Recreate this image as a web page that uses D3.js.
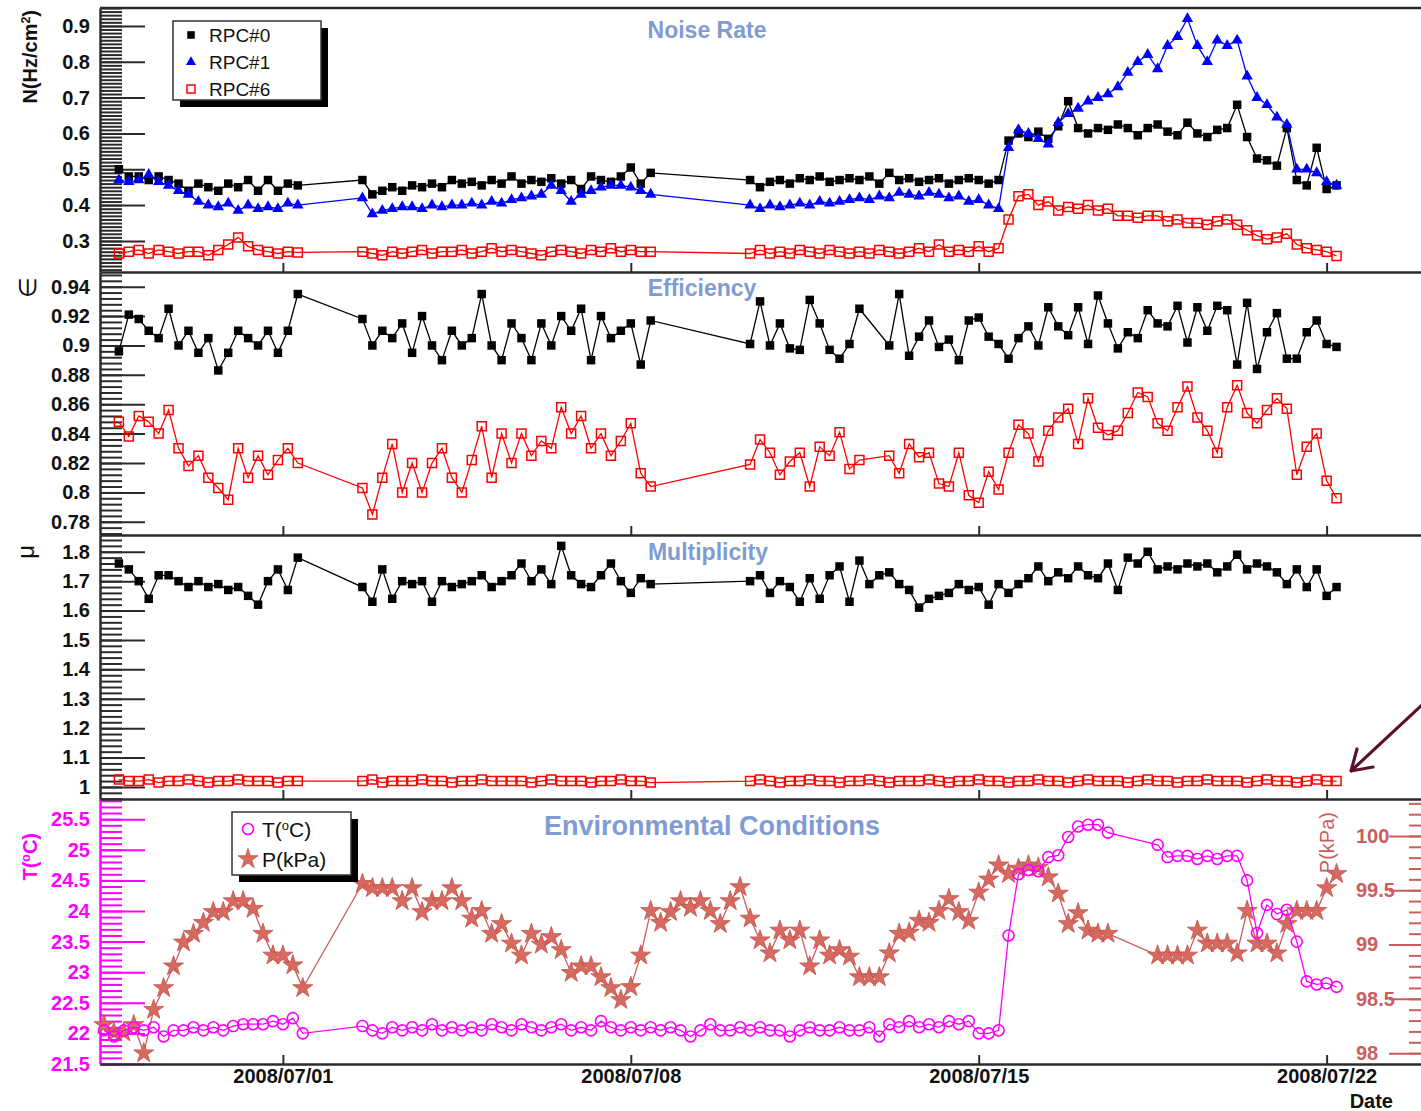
<!DOCTYPE html>
<html><head><meta charset="utf-8">
<script src="https://cdn.jsdelivr.net/npm/d3@7"></script>
<style>
html,body{margin:0;padding:0;background:#fff;}
svg{display:block;font-family:"Liberation Sans",Arial,Helvetica,sans-serif;}
</style></head><body>
<svg id="chart" width="1421" height="1111"></svg>
<script>
// ---- sampling times, in days since 2008/07/01 00:00 ----
const runDays = [
  -3.3,-3.1,-2.9,-2.7,-2.5,-2.3,-2.1,-1.9,-1.7,-1.5,-1.3,-1.1,-0.9,-0.7,-0.5,-0.3,-0.1,0.1,0.3,
  1.6,1.8,2.0,2.2,2.4,2.6,2.8,3.0,3.2,3.4,3.6,3.8,4.0,4.2,4.4,4.6,4.8,5.0,5.2,5.4,5.6,5.8,6.0,6.2,6.4,6.6,6.8,7.0,7.2,7.4,
  9.4,9.6,9.8,10.0,10.2,10.4,10.6,10.8,11.0,11.2,11.4,11.6,11.8,12.0,12.2,12.4,12.6,12.8,13.0,13.2,
  13.4,13.6,13.8,14.0,14.2,14.4,14.6,14.8,15.0,15.2,15.4,15.6,15.8,16.0,16.2,16.4,16.6,16.8,17.0,17.2,
  17.4,17.6,17.8,18.0,18.2,18.4,18.6,18.8,19.0,19.2,19.4,19.6,19.8,20.0,20.2,20.4,20.6,20.8,21.0,21.2
];
const effDays = [
  -3.3,-3.1,-2.9,-2.7,-2.5,-2.3,-2.1,-1.9,-1.7,-1.5,-1.3,-1.1,-0.9,-0.7,-0.5,-0.3,-0.1,0.1,0.3,
  1.6,1.8,2.0,2.2,2.4,2.6,2.8,3.0,3.2,3.4,3.6,3.8,4.0,4.2,4.4,4.6,4.8,5.0,5.2,5.4,5.6,5.8,6.0,6.2,6.4,6.6,6.8,7.0,7.2,7.4,
  9.4,9.6,9.8,10.0,10.2,10.4,10.6,10.8,11.0,11.2,11.4,11.6,12.2,12.4,12.6,12.8,13.0,13.2,
  13.4,13.6,13.8,14.0,14.2,14.4,14.6,14.8,15.0,15.2,15.4,15.6,15.8,16.0,16.2,16.4,16.6,16.8,17.0,17.2,
  17.4,17.6,17.8,18.0,18.2,18.4,18.6,18.8,19.0,19.2,19.4,19.6,19.8,20.0,20.2,20.4,20.6,20.8,21.0,21.2
];
const envDays = [
  -3.6,-3.4,-3.2,-3.0,-2.8,-2.6,-2.4,-2.2,-2.0,-1.8,-1.6,-1.4,-1.2,-1.0,-0.8,-0.6,-0.4,-0.2,0.0,0.2,0.4,
  1.6,1.8,2.0,2.2,2.4,2.6,2.8,3.0,3.2,3.4,3.6,3.8,4.0,4.2,4.4,4.6,4.8,5.0,5.2,5.4,5.6,5.8,6.0,6.2,6.4,6.6,
  6.8,7.0,7.2,7.4,7.6,7.8,8.0,8.2,8.4,8.6,8.8,9.0,9.2,9.4,9.6,9.8,10.0,10.2,10.4,10.6,10.8,11.0,11.2,11.4,
  11.6,11.8,12.0,12.2,12.4,12.6,12.8,13.0,13.2,13.4,13.6,13.8,14.0,14.2,14.4,14.6,14.8,15.0,15.2,15.4,15.6,
  15.8,16.0,16.2,16.4,16.6,
  17.6,17.8,18.0,18.2,18.4,18.6,18.8,19.0,19.2,19.4,19.6,19.8,20.0,20.2,20.4,20.6,20.8,21.0,21.2
];

// ---- noise rate N (Hz/cm^2) ----
const noiseRPC0 = [
  0.50,0.48,0.48,0.47,0.48,0.47,0.46,0.44,0.46,0.45,0.44,0.46,0.45,0.47,0.44,0.47,0.44,0.46,0.455,
  0.47,0.43,0.44,0.45,0.44,0.455,0.45,0.46,0.45,0.47,0.46,0.465,0.455,0.47,0.46,0.48,0.46,0.47,0.465,0.475,
  0.46,0.47,0.445,0.48,0.47,0.465,0.48,0.505,0.46,0.49,
  0.47,0.45,0.465,0.47,0.46,0.475,0.47,0.48,0.465,0.47,0.475,0.47,0.48,0.46,0.49,0.47,0.475,0.465,0.47,0.475,
  0.46,0.47,0.475,0.47,0.46,0.47,0.58,0.60,0.59,0.605,0.585,0.62,0.69,0.615,0.60,0.615,0.61,0.625,0.615,0.595,
  0.615,0.625,0.605,0.595,0.63,0.60,0.59,0.61,0.615,0.68,0.59,0.53,0.525,0.51,0.615,0.47,0.455,0.56,0.445,0.455
];
const noiseRPC1 = [
  0.47,0.465,0.47,0.485,0.465,0.455,0.44,0.43,0.41,0.40,0.395,0.405,0.385,0.40,0.39,0.395,0.39,0.405,0.40,
  0.42,0.375,0.385,0.39,0.395,0.395,0.39,0.40,0.395,0.40,0.40,0.405,0.40,0.41,0.405,0.415,0.42,0.425,0.43,0.455,
  0.44,0.41,0.43,0.44,0.45,0.455,0.455,0.45,0.44,0.43,
  0.40,0.39,0.40,0.395,0.40,0.405,0.40,0.41,0.405,0.41,0.415,0.42,0.415,0.425,0.42,0.435,0.43,0.425,0.435,0.43,
  0.42,0.425,0.41,0.415,0.40,0.39,0.56,0.61,0.60,0.585,0.57,0.63,0.655,0.67,0.69,0.70,0.71,0.73,0.77,0.80,
  0.82,0.78,0.845,0.87,0.92,0.845,0.80,0.86,0.845,0.86,0.76,0.70,0.68,0.645,0.625,0.50,0.50,0.49,0.465,0.455
];
const noiseRPC6 = [
  0.265,0.27,0.275,0.265,0.275,0.27,0.265,0.27,0.27,0.26,0.275,0.29,0.31,0.285,0.275,0.27,0.265,0.27,0.268,
  0.27,0.265,0.26,0.27,0.265,0.27,0.275,0.265,0.27,0.27,0.275,0.265,0.27,0.28,0.27,0.275,0.27,0.265,0.26,0.27,
  0.275,0.27,0.265,0.275,0.27,0.28,0.27,0.275,0.27,0.27,
  0.265,0.275,0.265,0.27,0.265,0.275,0.27,0.265,0.275,0.27,0.265,0.27,0.265,0.275,0.27,0.265,0.27,0.28,0.27,0.29,
  0.27,0.275,0.27,0.285,0.27,0.28,0.36,0.425,0.43,0.40,0.41,0.385,0.395,0.39,0.40,0.385,0.39,0.37,0.37,0.365,
  0.37,0.37,0.355,0.36,0.35,0.35,0.345,0.355,0.36,0.345,0.33,0.315,0.305,0.31,0.32,0.29,0.28,0.275,0.27,0.258
];

// ---- efficiency ----
const effRPC0 = [
  0.896,0.921,0.918,0.91,0.905,0.925,0.9,0.91,0.895,0.905,0.883,0.895,0.91,0.905,0.9,0.91,0.895,0.91,0.935,
  0.918,0.9,0.91,0.905,0.915,0.895,0.92,0.9,0.89,0.91,0.9,0.905,0.935,0.9,0.89,0.915,0.905,0.89,0.915,0.9,
  0.92,0.91,0.925,0.89,0.92,0.905,0.91,0.915,0.887,0.917,
  0.901,0.93,0.9,0.915,0.898,0.897,0.931,0.915,0.897,0.891,0.901,0.925,0.9,0.935,0.893,0.906,0.917,0.899,0.904,0.89,
  0.917,0.919,0.906,0.901,0.891,0.905,0.913,0.9,0.926,0.913,0.907,0.926,0.901,0.934,0.915,0.898,0.909,0.905,0.924,0.915,
  0.913,0.927,0.902,0.926,0.91,0.927,0.924,0.887,0.929,0.884,0.909,0.922,0.891,0.891,0.909,0.917,0.901,0.899
];
const effRPC6 = [
  0.848,0.838,0.852,0.848,0.84,0.856,0.83,0.818,0.825,0.81,0.803,0.795,0.83,0.81,0.825,0.812,0.822,0.83,0.82,
  0.803,0.785,0.81,0.833,0.8,0.82,0.8,0.82,0.83,0.81,0.8,0.822,0.845,0.81,0.84,0.82,0.84,0.825,0.835,0.83,
  0.858,0.84,0.852,0.83,0.84,0.825,0.835,0.847,0.813,0.804,
  0.819,0.836,0.827,0.812,0.821,0.827,0.804,0.831,0.825,0.841,0.816,0.822,0.825,0.813,0.833,0.824,0.827,0.806,0.804,0.827,
  0.798,0.793,0.814,0.802,0.827,0.846,0.84,0.821,0.842,0.851,0.857,0.833,0.864,0.844,0.839,0.842,0.854,0.868,0.865,0.847,
  0.842,0.858,0.872,0.851,0.842,0.827,0.858,0.873,0.854,0.847,0.856,0.864,0.857,0.812,0.831,0.84,0.808,0.796
];

// ---- multiplicity ----
const mulRPC0 = [
  1.76,1.74,1.70,1.64,1.72,1.72,1.70,1.68,1.70,1.68,1.69,1.67,1.68,1.65,1.62,1.70,1.74,1.67,1.78,
  1.68,1.63,1.74,1.64,1.70,1.69,1.70,1.63,1.70,1.68,1.69,1.70,1.72,1.68,1.70,1.72,1.76,1.70,1.74,1.69,
  1.82,1.72,1.69,1.68,1.72,1.76,1.70,1.66,1.71,1.69,
  1.70,1.72,1.66,1.70,1.68,1.63,1.71,1.64,1.72,1.75,1.63,1.77,1.69,1.72,1.73,1.69,1.67,1.61,1.64,1.65,
  1.66,1.69,1.67,1.68,1.62,1.69,1.66,1.69,1.71,1.75,1.70,1.73,1.71,1.75,1.72,1.71,1.76,1.67,1.78,1.76,
  1.80,1.74,1.75,1.74,1.76,1.75,1.76,1.73,1.75,1.79,1.74,1.76,1.75,1.73,1.69,1.74,1.68,1.74,1.65,1.68
];
const mulRPC6 = [
  1.025,1.02,1.02,1.025,1.015,1.02,1.02,1.025,1.02,1.015,1.02,1.02,1.025,1.02,1.02,1.02,1.015,1.02,1.02,
  1.02,1.025,1.015,1.02,1.02,1.02,1.025,1.02,1.02,1.015,1.02,1.02,1.025,1.02,1.02,1.02,1.02,1.015,1.02,1.025,
  1.02,1.02,1.02,1.015,1.02,1.02,1.025,1.02,1.02,1.015,
  1.02,1.025,1.02,1.015,1.02,1.02,1.025,1.02,1.02,1.015,1.02,1.02,1.025,1.02,1.015,1.02,1.02,1.02,1.025,1.02,
  1.015,1.02,1.02,1.025,1.02,1.02,1.015,1.02,1.02,1.025,1.02,1.02,1.015,1.02,1.025,1.02,1.02,1.02,1.015,1.02,
  1.025,1.02,1.02,1.015,1.02,1.02,1.025,1.02,1.02,1.02,1.015,1.02,1.025,1.02,1.02,1.015,1.02,1.025,1.02,1.02
];

// ---- environment: temperature (C) and pressure (kPa) ----
const tempC = [
  22.05,21.95,22.05,22.1,22.05,22.1,21.95,22.05,22.05,22.1,22.05,22.1,22.05,22.12,22.15,22.15,22.15,22.2,22.15,22.25,22.0,
  22.12,22.05,22.0,22.1,22.05,22.1,22.05,22.15,22.05,22.1,22.05,22.1,22.05,22.15,22.1,22.05,22.15,22.1,22.05,22.1,
  22.15,22.05,22.1,22.05,22.2,22.1,22.05,22.1,22.05,22.1,22.05,22.1,22.05,21.95,22.05,22.15,22.05,22.05,22.1,22.05,
  22.1,22.05,22.05,21.95,22.05,22.1,22.05,22.05,22.1,22.05,22.05,22.1,21.95,22.15,22.1,22.2,22.1,22.15,22.1,22.2,
  22.15,22.2,22.0,22.0,22.05,23.6,24.6,24.67,24.65,24.88,24.91,25.21,25.38,25.41,25.41,25.28,
  25.08,24.88,24.9,24.9,24.85,24.9,24.85,24.9,24.9,24.5,23.64,24.1,23.95,24.02,23.5,22.85,22.8,22.82,22.76
];
const pressKPa = [
  98.26,98.19,98.19,98.26,98.0,98.4,98.6,98.8,99.02,99.1,99.2,99.3,99.3,99.4,99.4,99.33,99.1,98.9,98.9,98.81,98.6,
  99.56,99.52,99.52,99.52,99.4,99.52,99.3,99.4,99.4,99.52,99.4,99.24,99.31,99.1,99.19,99.01,98.9,99.1,99.0,99.07,
  98.95,98.74,98.8,98.8,98.7,98.6,98.49,98.61,98.9,99.31,99.2,99.3,99.4,99.34,99.4,99.31,99.19,99.4,99.53,99.24,
  99.04,98.92,99.13,99.04,99.13,98.8,99.04,98.9,98.95,98.89,98.7,98.7,98.7,98.92,99.1,99.11,99.22,99.2,99.31,99.42,
  99.3,99.22,99.48,99.6,99.73,99.65,99.7,99.73,99.71,99.62,99.47,99.19,99.29,99.13,99.1,99.1,
  98.9,98.9,98.9,98.9,99.13,99.01,99.01,99.01,98.92,99.31,99.01,99.01,98.92,99.19,99.31,99.31,99.31,99.52,99.65
];

// ---- axis labels ----
const dateTicks = ["2008/07/01","2008/07/08","2008/07/15","2008/07/22"];
const legendRPC = ["RPC#0","RPC#1","RPC#6"];
const panelTitles = ["Noise Rate","Efficiency","Multiplicity","Environmental Conditions"];

// ---------------------------------------------------------------
const svg = d3.select("#chart");
const LEFT = 100, RIGHT = 1429;
const day0 = Date.UTC(2008, 6, 1);
const toDate = d => new Date(day0 + d * 864e5);
const parseTick = d3.utcParse("%Y/%m/%d");

const x = d3.scaleUtc().domain([toDate(-3.68), toDate(23.06)]).range([LEFT, RIGHT]);

const yNoise = d3.scaleLinear().domain([0.2134, 0.950]).range([272, 8]);
const yEff   = d3.scaleLinear().domain([0.771, 0.950]).range([535, 272]);
const yMul   = d3.scaleLinear().domain([0.959, 1.857]).range([799, 535]);
const yTemp  = d3.scaleLinear().domain([21.5, 25.83]).range([1064, 799]);
const yPres  = d3.scaleLinear().domain([97.9, 100.34]).range([1064, 799]);

const trim = d => String(+d.toFixed(3));
const steps = (a, b, s) => d3.range(Math.round(a / s), Math.round(b / s) + 1).map(k => +(k * s).toFixed(4));

const AX = "#2b2b2b";
const MAG = "#ff00ff";
const PCOL = "#cd5c5c";

function leftAxis(y, majors, minors, color) {
  const gm = svg.append("g").attr("transform", `translate(${LEFT},0)`)
    .call(d3.axisLeft(y).tickValues(minors).tickSizeInner(-22).tickSizeOuter(0).tickFormat(""));
  gm.select(".domain").remove();
  gm.selectAll("line").attr("stroke", color).attr("stroke-width", 2);
  const g = svg.append("g").attr("transform", `translate(${LEFT},0)`)
    .call(d3.axisLeft(y).tickValues(majors).tickSizeInner(-45).tickSizeOuter(0).tickPadding(10).tickFormat(trim));
  g.select(".domain").attr("stroke", color).attr("stroke-width", 2.5);
  g.selectAll("line").attr("stroke", color).attr("stroke-width", 2);
  g.selectAll("text").attr("font-size", 20).attr("font-weight", "bold")
    .attr("fill", color === AX ? "#111" : color).attr("font-family", null);
}

function bottomAxis(yPos, labelled) {
  const ax = d3.axisBottom(x).tickValues(dateTicks.map(parseTick))
    .tickSizeInner(-9).tickSizeOuter(0).tickPadding(2)
    .tickFormat(labelled ? d3.utcFormat("%Y/%m/%d") : "");
  const g = svg.append("g").attr("transform", `translate(0,${yPos})`).call(ax);
  g.select(".domain").attr("stroke", AX).attr("stroke-width", 2.5);
  g.selectAll("line").attr("stroke", AX).attr("stroke-width", 2);
  g.selectAll("text").attr("font-size", 20).attr("font-weight", "bold").attr("fill", "#111")
    .attr("font-family", null).attr("dy", "0.85em");
}

function drawSeries(y, days, values, o) {
  const pts = days.map((d, i) => ({ t: toDate(d), v: values[i] }));
  svg.append("path").datum(pts)
    .attr("d", d3.line().x(p => x(p.t)).y(p => y(p.v)))
    .attr("fill", "none").attr("stroke", o.color).attr("stroke-width", 1.3);
  svg.append("g").selectAll("path").data(pts).join("path")
    .attr("transform", p => `translate(${x(p.t)},${y(p.v)})`)
    .attr("d", d3.symbol(o.symbol, o.size)())
    .attr("fill", o.fill).attr("stroke", o.stroke).attr("stroke-width", o.sw);
}

const styleRPC0 = { color: "#000", symbol: d3.symbolSquare, size: 72, fill: "#000", stroke: "none", sw: 0 };
const styleRPC1 = { color: "#0000ff", symbol: d3.symbolTriangle, size: 56, fill: "#0000ff", stroke: "none", sw: 0 };
const styleRPC6 = { color: "#ff0000", symbol: d3.symbolSquare, size: 81, fill: "none", stroke: "#ff0000", sw: 1.5 };
const styleT = { color: MAG, symbol: d3.symbolCircle, size: 95, fill: "none", stroke: MAG, sw: 1.6 };
const styleP = { color: PCOL, symbol: d3.symbolStar, size: 125, fill: "#d66a60", stroke: "#c4524a", sw: 0.8 };

// top frame line
svg.append("line").attr("x1", LEFT).attr("x2", RIGHT).attr("y1", 8).attr("y2", 8)
  .attr("stroke", AX).attr("stroke-width", 2.5);

// axes
leftAxis(yNoise, steps(0.3, 0.9, 0.1), steps(0.22, 0.95, 0.01), AX);
leftAxis(yEff, steps(0.78, 0.94, 0.02), steps(0.772, 0.948, 0.004), AX);
leftAxis(yMul, steps(1.0, 1.8, 0.1), steps(0.96, 1.84, 0.02), AX);
leftAxis(yTemp, steps(21.5, 25.5, 0.5), steps(21.5, 25.8, 0.1), MAG);
bottomAxis(272, false);
bottomAxis(535, false);
bottomAxis(799, false);
bottomAxis(1064, true);

// right-hand pressure axis (ticks point inward, labels inside the frame)
{
  const gm = svg.append("g").attr("transform", `translate(${RIGHT},0)`)
    .call(d3.axisLeft(yPres).tickValues(steps(98.0, 100.3, 0.1)).tickSizeInner(20).tickSizeOuter(0).tickFormat(""));
  gm.select(".domain").remove();
  gm.selectAll("line").attr("stroke", PCOL).attr("stroke-width", 2);
  const g = svg.append("g").attr("transform", `translate(${RIGHT},0)`)
    .call(d3.axisLeft(yPres).tickValues(steps(98, 100, 0.5)).tickSizeInner(40).tickSizeOuter(0).tickFormat(trim));
  g.select(".domain").attr("stroke", PCOL).attr("stroke-width", 2.5);
  g.selectAll("line").attr("stroke", PCOL).attr("stroke-width", 2);
  g.selectAll("text").attr("x", -73).attr("text-anchor", "start").attr("font-size", 20)
    .attr("font-weight", "bold").attr("fill", PCOL).attr("font-family", null);
}

// data
drawSeries(yNoise, runDays, noiseRPC0, styleRPC0);
drawSeries(yNoise, runDays, noiseRPC1, styleRPC1);
drawSeries(yNoise, runDays, noiseRPC6, styleRPC6);
drawSeries(yEff, effDays, effRPC0, styleRPC0);
drawSeries(yEff, effDays, effRPC6, styleRPC6);
drawSeries(yMul, runDays, mulRPC0, styleRPC0);
drawSeries(yMul, runDays, mulRPC6, styleRPC6);
drawSeries(yPres, envDays, pressKPa, styleP);
drawSeries(yTemp, envDays, tempC, styleT);

// panel titles
const TITLE = "#7f9bd3";
[[707, 38, 23], [702, 296, 23], [708, 560, 23], [712, 835, 27]].forEach(([cx, cy, fs], i) => {
  svg.append("text").attr("x", cx).attr("y", cy).attr("text-anchor", "middle")
    .attr("font-size", fs).attr("font-weight", "bold").attr("fill", TITLE).text(panelTitles[i]);
});

// y-axis titles (rotated; the string ends at yEnd and runs downward from it)
function vTitle(xb, yEnd, parts, o) {
  const t = svg.append("text").attr("transform", `translate(${xb},${yEnd}) rotate(-90)`)
    .attr("text-anchor", "end").attr("font-size", o.size).attr("font-weight", o.weight)
    .attr("fill", o.color);
  parts.forEach(p => {
    const s = t.append("tspan").text(p.s);
    if (p.sup) s.attr("font-size", o.size * 0.62).attr("baseline-shift", "super");
  });
}
vTitle(37, 10, [{ s: "N(Hz/cm" }, { s: "2", sup: true }, { s: ")" }], { size: 20, weight: "bold", color: "#111" });
vTitle(36, 277, [{ s: "\u2208" }], { size: 24, weight: "normal", color: "#111" });
vTitle(34, 545, [{ s: "\u03bc" }], { size: 24, weight: "normal", color: "#111" });
vTitle(37, 833, [{ s: "T(" }, { s: "o", sup: true }, { s: "C)" }], { size: 20, weight: "bold", color: MAG });
vTitle(1334, 812, [{ s: "P(kPa)" }], { size: 20, weight: "normal", color: PCOL });

// x-axis title
svg.append("text").attr("x", 1393).attr("y", 1108).attr("text-anchor", "end")
  .attr("font-size", 20).attr("font-weight", "bold").attr("fill", "#111").text("Date");

// legends
function legendBox(x0, y0, w, h) {
  svg.append("rect").attr("x", x0 + 7).attr("y", y0 + 7).attr("width", w).attr("height", h).attr("fill", "#000");
  svg.append("rect").attr("x", x0).attr("y", y0).attr("width", w).attr("height", h)
    .attr("fill", "#fff").attr("stroke", "#333").attr("stroke-width", 1.5);
}
legendBox(173, 21, 148, 79);
[styleRPC0, styleRPC1, styleRPC6].forEach((s, i) => {
  const cy = 35 + i * 27;
  svg.append("path").attr("transform", `translate(191,${cy})`)
    .attr("d", d3.symbol(s.symbol, s.size * 0.8)()).attr("fill", s.fill).attr("stroke", s.stroke).attr("stroke-width", s.sw);
  svg.append("text").attr("x", 209).attr("y", cy + 7).attr("font-size", 19).attr("fill", "#111").text(legendRPC[i]);
});

legendBox(232, 812, 119, 63);
svg.append("path").attr("transform", "translate(248,829)")
  .attr("d", d3.symbol(styleT.symbol, styleT.size)()).attr("fill", "none").attr("stroke", MAG).attr("stroke-width", 1.6);
{
  const t = svg.append("text").attr("x", 262).attr("y", 837).attr("font-size", 21).attr("fill", "#111");
  t.append("tspan").text("T(");
  t.append("tspan").text("o").attr("font-size", 13).attr("baseline-shift", "super");
  t.append("tspan").text("C)");
}
svg.append("path").attr("transform", "translate(248,859)")
  .attr("d", d3.symbol(styleP.symbol, styleP.size)()).attr("fill", styleP.fill).attr("stroke", styleP.stroke).attr("stroke-width", 0.8);
svg.append("text").attr("x", 262).attr("y", 867).attr("font-size", 21).attr("fill", "#111").text("P(kPa)");

// annotation arrow pointing at the RPC#6 multiplicity band
const ARROW = "#5c1030";
svg.append("path").attr("d", "M1423,704 L1351,771 M1357,749 L1351,771 L1373,767")
  .attr("fill", "none").attr("stroke", ARROW).attr("stroke-width", 3.2)
  .attr("stroke-linecap", "round").attr("stroke-linejoin", "round");
</script>
</body></html>
